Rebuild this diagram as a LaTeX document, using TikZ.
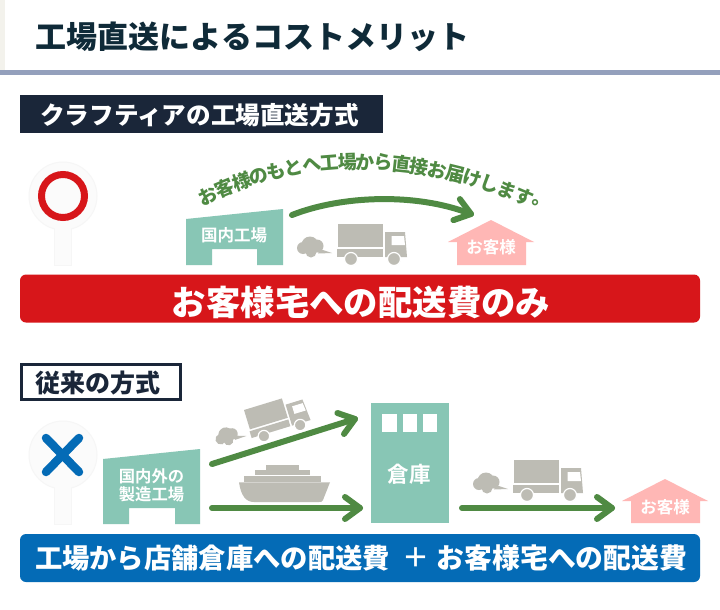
\documentclass[tikz,border=0pt]{standalone}
\usepackage{fontspec}
\newfontfamily\jpfont{Noto Sans CJK JP Bold}
\newfontfamily\jpheavy{Noto Sans CJK JP Black}
\newcommand{\jfs}[1]{\fontsize{#1}{#1}\selectfont}
\definecolor{navy}{HTML}{1A2639}
\definecolor{titleink}{HTML}{0F2A38}
\definecolor{rulec}{HTML}{94A0BC}
\definecolor{stripc}{HTML}{F3F2EC}
\definecolor{signred}{HTML}{D7161A}
\definecolor{signblue}{HTML}{046BB6}
\definecolor{teal}{HTML}{88C6B5}
\definecolor{pinkc}{HTML}{FFB7B5}
\definecolor{grayc}{HTML}{BDBCB4}
\definecolor{greenc}{HTML}{4F8A43}
\definecolor{signbg}{HTML}{FBFBFB}
\definecolor{signedge}{HTML}{F6F6F6}
\tikzset{
  txt/.style={inner sep=0pt,outer sep=0pt,anchor=center,white,font=\jpfont},
  heavy/.style={inner sep=0pt,outer sep=0pt,anchor=center,white,font=\jpheavy},
  flow/.style={draw=greenc,line width=6pt,line cap=round,line join=round},
  signface/.style={fill=signbg,draw=signedge,line width=1pt},
}
\newcommand{\headat}[2]{\draw[flow,shift={(#1)},rotate=#2] (-15,-11) -- (0,0) -- (-15,11);}
\newcommand{\truckshape}{%
  \fill[grayc] (-35,24) circle (6) (-28,21) circle (8.5) (-21,22) circle (6.5) (-27,28) circle (5.5);
  \fill[grayc] (-18,25) -- (-6,29) -- (-20,29.5) -- cycle;
  \fill[grayc] (0,0) rectangle (45,23);
  \fill[grayc] (-1,25) rectangle (45,33);
  \fill[grayc] (47,8) -- (67,8) -- (69,33) -- (47,33) -- cycle;
  \fill[white] (53.5,12) -- (66,12) -- (67,21) -- (53.5,21) -- cycle;
  \fill[grayc,draw=white,line width=1.2pt] (13,35) circle (6.5);
  \fill[grayc,draw=white,line width=1.2pt] (56,35) circle (6.5);
}
\begin{document}
\begin{tikzpicture}[x=1pt,y=-1pt]
\useasboundingbox (0,0) rectangle (720,610);
\fill[white] (0,0) rectangle (720,610);
% header
\fill[stripc] (0,0) rectangle (5,70);
\fill[rulec] (0,70) rectangle (720,75);
\node[heavy,text=titleink] (title) at (252.5,37) {\jfs{31}工場直送によるコストメリット};
% section 1 label
\fill[navy] (20,95) rectangle (383,133);
\node[heavy] (sec1) at (199.5,115.5) {\jfs{24.6}クラフティアの工場直送方式};
% circle sign
\draw[signface] (54,225) rectangle (71,265);
\draw[signface] (63,196) circle (34);
\fill[signbg] (54.5,225) rectangle (70.5,232);
\draw[signred,line width=7pt] (63,196) circle (21.5);
% factory 1
\fill[teal] (186,219) -- (283,209) -- (283,265) -- (257,265) -- (257,249) -- (212,249) -- (212,265) -- (186,265) -- cycle;
\node[txt] (fac1) at (234,235) {\jfs{16.5}国内工場};
% curved text
\foreach \ch [count=\i from 0] in {お,客,様,の,も,と,へ,工,場,か,ら,直,接,お,届,け,し,ま,す,。}{
  \pgfmathsetmacro{\p}{\i/19}
  \path (208,196) .. controls (313,145) and (436,154) .. (541,205)
    node[heavy,text=greenc,sloped,pos=\p] (arc\i) {\jfs{19}\ch};
}
% truck 1
\begin{scope}[shift={(338,224)}]\truckshape\end{scope}
% house 1
\fill[pinkc] (491,220) -- (534,242) -- (526,242) -- (526,265) -- (457,265) -- (457,242) -- (448,242) -- cycle;
\node[txt] (home1) at (491,247) {\jfs{16.5}お客様};
% arrow 1
\coordinate (a1s) at (292,215);
\coordinate (a1e) at (471,214);
\draw[flow] (a1s) .. controls (340,196) and (415,192) .. (a1e);
\headat{a1e}{-17}
% red bar
\fill[signred] (20,274.5) [rounded corners=6pt] rectangle (700,322.5);
\node[heavy] (bar1) at (361,302) {\jfs{34.4}お客様宅への配送費のみ};
% section 2 label
\draw[navy,line width=3pt,fill=white] (21,364.5) rectangle (180,399);
\node[heavy,text=navy] (sec2) at (98,383) {\jfs{25}従来の方式};
% cross sign
\draw[signface] (54,484) rectangle (71,524);
\draw[signface] (63,455) circle (34);
\fill[signbg] (54.5,484) rectangle (70.5,491);
\draw[signblue,line width=8.5pt,line cap=round] (46,438) -- (79,472);
\draw[signblue,line width=8.5pt,line cap=round] (79,438) -- (46,472);
% factory 2
\fill[teal] (103,459) -- (200,449) -- (200,524) -- (175,524) -- (175,508) -- (129,508) -- (129,524) -- (103,524) -- cycle;
\node[txt] (fac2a) at (151.5,476) {\jfs{16.3}国内外の};
\node[txt] (fac2b) at (151.5,494) {\jfs{16.3}製造工場};
% truck 2
\begin{scope}[shift={(244,410)},rotate=17,scale=0.88]\truckshape\end{scope}
% ship
\fill[grayc] (239,482.3) -- (330,482.3) -- (323,500) .. controls (322,502) and (321,502) .. (319,502) -- (254,502) .. controls (246,502) and (241,496) .. (239,482.3) -- cycle;
\foreach \x in {244,255,...,310} \fill[grayc] (\x+.45,475.9) rectangle (\x+10.55,481.6);
\foreach \x in {255,266,...,299} \fill[grayc] (\x+.45,470.2) rectangle (\x+10.55,475.2);
\foreach \x in {266,277,288} \fill[grayc] (\x+.45,464.5) rectangle (\x+10.55,469.5);
% arrows 2,3
\coordinate (a2s) at (212,464);
\coordinate (a2e) at (355,419);
\coordinate (a3s) at (212,508);
\coordinate (a3e) at (360,508);
\draw[flow] (a2s) -- (a2e);
\headat{a2e}{17.5}
\draw[flow] (a3s) -- (a3e);
\headat{a3e}{0}
% warehouse
\fill[teal] (371,403) rectangle (449,523);
\fill[white] (382,414) rectangle (397,432);
\fill[white] (403,414) rectangle (417,432);
\fill[white] (423,414) rectangle (437,432);
\node[txt] (ware) at (409,474) {\jfs{21.5}倉庫};
% truck 3
\begin{scope}[shift={(514,460)}]\truckshape\end{scope}
% arrow 4
\coordinate (a4s) at (462,508);
\coordinate (a4e) at (612,508);
\draw[flow] (a4s) -- (a4e);
\headat{a4e}{0}
% house 2
\fill[pinkc] (665,479) -- (708,501) -- (700,501) -- (700,523) -- (631,523) -- (631,501) -- (622,501) -- cycle;
\node[txt] (home2) at (665,507) {\jfs{16.5}お客様};
% blue bar
\fill[signblue] (20,534) [rounded corners=6pt] rectangle (700,582);
\node[heavy] (bar2a) at (212.5,558) {\jfs{27.3}工場から店舗倉庫への配送費};
\node[txt] (bar2p) at (416,558) {\jfs{27}＋};
\node[heavy] (bar2b) at (562,558) {\jfs{27.8}お客様宅への配送費};
\end{tikzpicture}
\end{document}
